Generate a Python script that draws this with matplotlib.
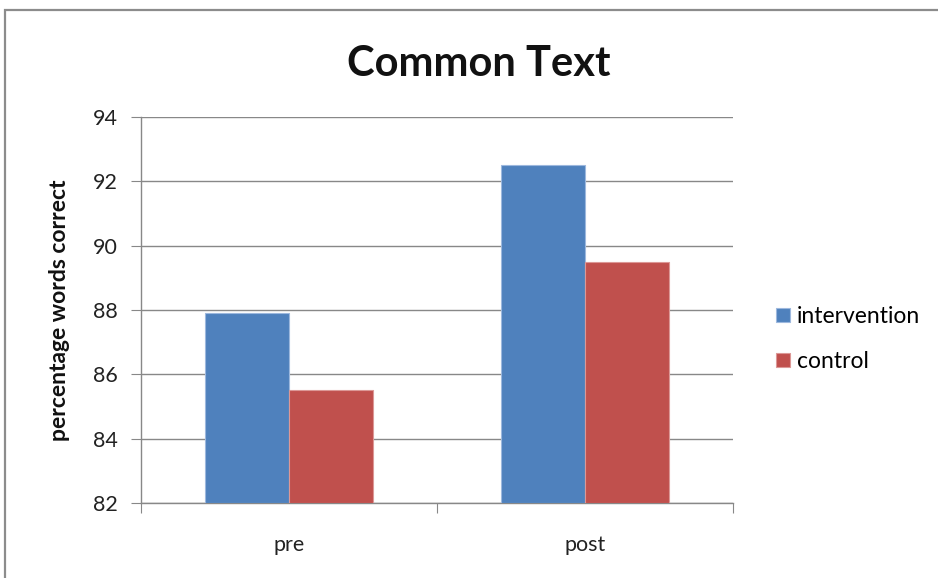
import matplotlib
matplotlib.use("Agg")
import matplotlib.pyplot as plt
from matplotlib.patches import Rectangle
import numpy as np

categories = ["pre", "post"]
series_names = ["intervention", "control"]
intervention = [87.9, 92.5]
control = [85.5, 89.5]
yticks = [82, 84, 86, 88, 90, 92, 94]

colors = ["#4F81BD", "#C0504D"]
edges = ["#9DB8DE", "#DC9896"]
grid_col = "#888888"

plt.rcParams["font.family"] = ["Lato", "DejaVu Sans"]

fig = plt.figure(figsize=(9.38, 5.78), dpi=100)
ax = fig.add_axes([141 / 938, 75 / 578, 592 / 938, 386 / 578])

x = np.arange(len(categories))
w = 0.283
base = yticks[0]
for i, (vals, name) in enumerate(zip([intervention, control], series_names)):
    heights = [v - base for v in vals]
    ax.bar(x + (i - 0.5) * w, heights, width=w, bottom=base, color=colors[i],
           edgecolor=edges[i], linewidth=0.8, label=name, zorder=3)

ax.set_xlim(-0.5, 1.5)
ax.set_ylim(yticks[0], yticks[-1])
ax.set_yticks(yticks)
ax.set_yticklabels([str(t) for t in yticks], fontsize=15.5, color="#222222")
ax.yaxis.grid(True, color=grid_col, linewidth=1.0, zorder=0)
ax.set_axisbelow(True)

# category separators as major ticks, labels as minor ticks
ax.set_xticks([-0.5, 0.5, 1.5])
ax.set_xticklabels([])
ax.set_xticks(x, minor=True)
ax.set_xticklabels(categories, minor=True, fontsize=15.5, color="#222222")
ax.tick_params(axis="x", which="minor", length=0, pad=23)
ax.tick_params(axis="x", which="major", length=7, color=grid_col, direction="out")
ax.tick_params(axis="y", length=7, color=grid_col, direction="out", pad=10)

for s in ["top", "right"]:
    ax.spines[s].set_visible(False)
for s in ["left", "bottom"]:
    ax.spines[s].set_color(grid_col)
    ax.spines[s].set_linewidth(1.0)

ax.set_ylabel("percentage words correct", fontsize=16.5, fontweight="bold",
              color="#111111", labelpad=16)

fig.text(479 / 938, 1 - 64 / 578, "Common Text", ha="center", va="center",
         fontsize=30, fontweight="bold", color="#111111")

ax.legend(loc="center left", bbox_to_anchor=(765 / 938, 1 - 339 / 578),
          bbox_transform=fig.transFigure, frameon=False, fontsize=16.5,
          handlelength=0.6, handleheight=0.6, handletextpad=0.3,
          labelspacing=1.05, borderpad=0)

# outer frame of the chart area
fig.patches.append(Rectangle((4.5 / 938, -0.02), 1.05, 1 - 10.5 / 578 + 0.02,
                             transform=fig.transFigure, fill=False,
                             edgecolor="#8C8C8C", linewidth=1.6))

fig.savefig("out.png", dpi=100)
